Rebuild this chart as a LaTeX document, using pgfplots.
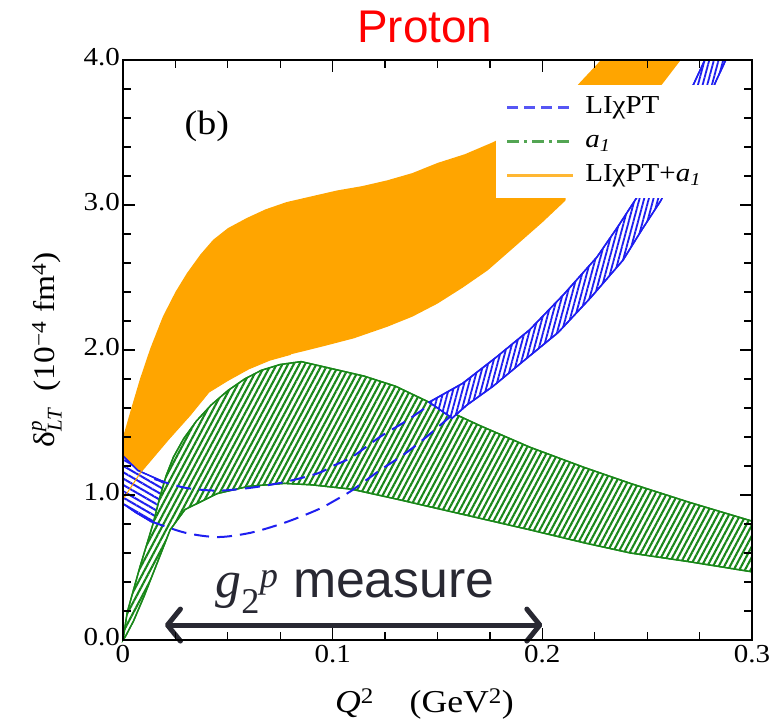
\documentclass[border=0pt]{standalone}
\usepackage{fontspec}
\setmainfont{Liberation Serif}
\newfontfamily\wide{Liberation Serif}[FakeStretch=1.12]
\newfontfamily\arial{Liberation Sans}
\usepackage{pgfplots}
\pgfplotsset{compat=1.18}
\usetikzlibrary{patterns.meta,arrows.meta}
\definecolor{cOrange}{RGB}{255,165,0}
\definecolor{cGreen}{RGB}{25,135,25}
\definecolor{cBlue}{RGB}{30,30,240}
\definecolor{cArrow}{RGB}{40,40,50}
\begin{document}
\begin{tikzpicture}
\useasboundingbox (-123bp,-85bp) rectangle (652bp,640bp);
\begin{axis}[
  scale only axis, width=629bp, height=580bp,
  xmin=0, xmax=0.3, ymin=0, ymax=4,
  clip=false, axis on top,
  axis line style={line width=1.8bp},
  xtick={0,0.1,0.2,0.3}, xticklabels={0,0.1,0.2,0.3},
  ytick={0,1,2,3,4}, yticklabels={0.0,1.0,2.0,3.0,4.0},
  minor x tick num=3, minor y tick num=4,
  tick align=inside, major tick length=12bp, minor tick length=8bp,
  every tick/.style={line width=1.2bp, black},
  tick label style={font=\wide\fontsize{26}{30}\selectfont, inner sep=1bp},
  xticklabel style={yshift=-4bp},
  yticklabel style={yshift=3bp, xshift=-2bp},
  /pgf/number format/assume math mode=true,
  legend style={at={(axis cs:0.1825,3.77)}, anchor=north west, draw=none, fill=none,
    inner sep=0pt, font=\wide\fontsize{26}{30}\selectfont, row sep=6bp,
    nodes={inner sep=1bp, text height=19bp, text depth=7bp}},
  legend cell align=left,
  legend image code/.code={\draw[#1] (0bp,0bp) -- (66bp,0bp); \path (76bp,0bp);},
]
% orange band LIchiPT + a1
\addplot[forget plot, fill=cOrange, draw=none] coordinates {
(0,1.40) (0.004,1.60) (0.0081,1.80) (0.013,2.01) (0.019,2.23) (0.025,2.40) (0.0305,2.53) (0.037,2.66) (0.043,2.76) (0.05,2.84) (0.059,2.91) (0.068,2.97) (0.078,3.02) (0.09,3.06) (0.102,3.10) (0.114,3.13) (0.126,3.17) (0.138,3.22) (0.15,3.29) (0.163,3.35) (0.176,3.43) (0.2,3.6) (0.24,3.75) (0.257,3.83) (0.266,4.0) (0.228,4.0) (0.217,3.83) (0.214,3.4) (0.211,3.03) (0.2,2.88) (0.189,2.74) (0.174,2.55) (0.162,2.43) (0.15,2.32) (0.138,2.23) (0.126,2.16) (0.11,2.08) (0.094,2.02) (0.08,1.97) (0.07,1.93) (0.06,1.87) (0.05,1.79) (0.041,1.71) (0.032,1.55) (0.0215,1.38) (0.0086,1.16) (0,0.97)} -- cycle;
% blue band, left piece
\addplot[forget plot, draw=cBlue, line width=1.4bp, fill=white,
  postaction={pattern={Lines[angle=-30,distance=5.5bp,line width=2bp]}, pattern color=cBlue}] coordinates {
(0,1.27) (0.007,1.17) (0.018,1.10) (0.022,1.08) (0.021,0.80) (0.013,0.82) (0.006,0.88) (0,0.94)} -- cycle;
% green band a1
\addplot[forget plot, draw=cGreen, line width=1.4bp, fill=white,
  postaction={pattern={Lines[angle=62,distance=5bp,line width=2.1bp]}, pattern color=cGreen}] coordinates {
(0,0) (0.002,0.19) (0.008,0.50) (0.0143,0.80) (0.0175,0.98) (0.0205,1.13) (0.024,1.26) (0.029,1.39) (0.035,1.51) (0.042,1.62) (0.05,1.72) (0.058,1.80) (0.066,1.86) (0.075,1.90) (0.085,1.92) (0.1,1.87) (0.115,1.82) (0.13,1.75) (0.146,1.64) (0.17,1.48) (0.194,1.33) (0.22,1.19) (0.242,1.08) (0.27,0.95) (0.3,0.82)
(0.3,0.47) (0.27,0.54) (0.242,0.60) (0.22,0.67) (0.194,0.76) (0.17,0.84) (0.146,0.92) (0.131,0.97) (0.109,1.04) (0.09,1.07) (0.077,1.08) (0.06,1.06) (0.045,1.01) (0.0296,0.90) (0.0225,0.76) (0.016,0.52) (0.01,0.30) (0.005,0.13) (0.001,0.02)} -- cycle;
% blue band, right piece
\addplot[forget plot, draw=cBlue, line width=1.5bp, fill=white,
  postaction={pattern={Lines[angle=75,distance=4.5bp,line width=1.8bp]}, pattern color=cBlue}] coordinates {
(0.146,1.64) (0.162,1.77) (0.178,1.95) (0.194,2.14) (0.21,2.38) (0.226,2.64) (0.236,2.85) (0.245,3.05) (0.26,3.46) (0.273,3.86) (0.2775,4.0) (0.2875,4.0) (0.283,3.86) (0.2705,3.44) (0.2565,3.03) (0.2475,2.83) (0.2385,2.62) (0.223,2.36) (0.2075,2.12) (0.1915,1.93) (0.1765,1.75) (0.164,1.62) (0.157,1.53)} -- cycle;
% blue dashed boundaries
\addplot[forget plot, cBlue, line width=2bp, dash pattern=on 15bp off 8bp, smooth] coordinates {
(0.015,1.11) (0.0296,1.05) (0.0453,1.03) (0.061,1.05) (0.0773,1.09) (0.093,1.15) (0.1,1.20) (0.109,1.26) (0.1225,1.40) (0.135,1.51) (0.147,1.63)};
\addplot[forget plot, cBlue, line width=2bp, dash pattern=on 15bp off 8bp, smooth] coordinates {
(0.013,0.82) (0.0296,0.74) (0.0453,0.71) (0.061,0.74) (0.0773,0.81) (0.093,0.90) (0.102,0.97) (0.109,1.03) (0.1225,1.17) (0.133,1.27) (0.143,1.38) (0.156,1.54)};
% orange lower edge line
\addplot[forget plot, cOrange, line width=1bp] coordinates {
(0,0.97) (0.0086,1.16) (0.0215,1.38) (0.032,1.55) (0.041,1.71) (0.05,1.79) (0.06,1.87) (0.07,1.93) (0.08,1.97)};
% white legend box
\fill[white] (axis cs:0.178,3.05) rectangle (axis cs:0.2985,3.83);
% measured range arrow
\addplot[forget plot, cArrow, line width=5bp,
  arrows={Straight Barb[round,length=13bp,width=32bp]-Straight Barb[round,length=13bp,width=32bp]}]
  coordinates {(0.02,0.103) (0.2,0.103)};
\node[anchor=base west, inner sep=0pt, text=cArrow, font=\arial\fontsize{52}{60}\selectfont]
  at (axis cs:0.044,0.29) {$\mathit{g}_{\mathrm{2}}{}^{\mathit{p}}$ measure};
\node[font=\wide\fontsize{34}{40}\selectfont] at (axis cs:0.040,3.54) {(b)};
\node[text=red, font=\arial\fontsize{46}{54}\selectfont] at (axis cs:0.144,4.228) {Proton};
\node[rotate=90, font=\wide\fontsize{30}{36}\selectfont] at (axis description cs:-0.121,0.5)
  {δ${}^{\mathit{p}}_{\mathit{LT}}$\ \ (10\textsuperscript{−4} fm\textsuperscript{4})};
\node[anchor=base west, font=\wide\fontsize{32}{38}\selectfont] at (axis cs:0.0995,-0.5)
  {\textit{Q}\textsuperscript{2}\ \ \ \ (GeV\textsuperscript{2})};
% legend
\addlegendimage{cBlue!75!white, line width=2.5bp, dash pattern=on 11bp off 6bp}
\addlegendentry{LIχPT}
\addlegendimage{cGreen!75!white, line width=2.5bp, dash pattern=on 12bp off 5bp on 3bp off 5bp}
\addlegendentry{\textit{a}\textsubscript{\textit{1}}}
\addlegendimage{cOrange!80!white, line width=2.5bp}
\addlegendentry{LIχPT+\textit{a}\textsubscript{\textit{1}}}
\end{axis}
\end{tikzpicture}
\end{document}
